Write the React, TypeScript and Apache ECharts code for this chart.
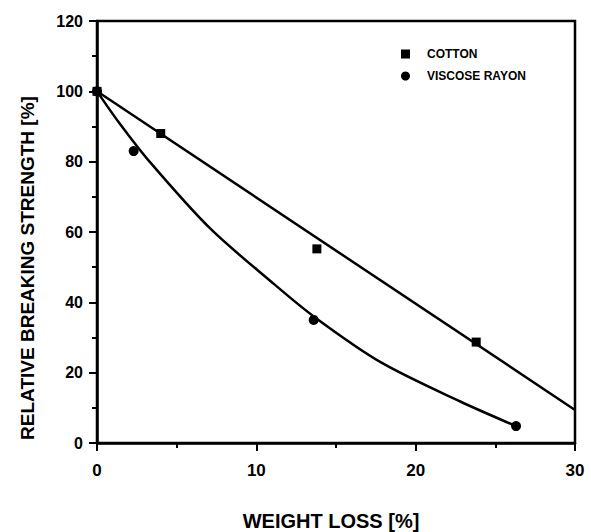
import React, { useEffect, useRef } from "react";
import * as echarts from "echarts";

const cottonPoints: [number, number][] = [
  [0, 100],
  [4, 88],
  [13.8, 55.2],
  [23.8, 28.7],
];
const cottonFitLine: [number, number][] = [
  [0, 100],
  [30, 9.4],
];
const viscosePoints: [number, number][] = [
  [0, 100],
  [2.3, 83],
  [13.6, 35],
  [26.3, 4.8],
];
const viscoseCurve: [number, number][] = [
  [0, 100],
  [1.4, 91],
  [3.3, 80],
  [7.1, 61],
  [10.9, 46],
  [13.6, 36],
  [17.8, 23],
  [22.8, 11.8],
  [26.3, 4.8],
];
const seriesNames = ["COTTON", "VISCOSE RAYON"];
const xTitle = "WEIGHT LOSS [%]";
const yTitle = "RELATIVE BREAKING STRENGTH [%]";

const FONT = "'Liberation Sans', Arial, Helvetica, sans-serif";

export default function App() {
  const ref = useRef<HTMLDivElement>(null);
  useEffect(() => {
    if (!ref.current) return;
    const chart = echarts.init(ref.current, null, { renderer: "svg" });
    chart.setOption({
      animation: false,
      backgroundColor: "#fff",
      grid: {
        left: 97,
        right: 16,
        top: 21,
        bottom: 89,
        show: true,
        borderColor: "#000",
        borderWidth: 2.5,
        backgroundColor: "transparent",
      },
      legend: {
        orient: "vertical",
        left: 396,
        top: 43,
        itemWidth: 9,
        itemHeight: 9,
        itemGap: 10,
        data: [
          { name: seriesNames[0], icon: "rect" },
          { name: seriesNames[1], icon: "circle" },
        ],
        textStyle: {
          fontFamily: FONT,
          fontWeight: "bold",
          fontSize: 12,
          color: "#000",
          padding: [0, 0, 0, 12],
        },
      },
      xAxis: {
        type: "value",
        min: 0,
        max: 30,
        interval: 10,
        splitLine: { show: false },
        axisLine: { show: true, lineStyle: { color: "#000", width: 2.5 } },
        axisTick: { show: true, inside: false, length: 8, lineStyle: { color: "#000", width: 2 } },
        minorTick: { show: true, splitNumber: 2, length: 5, lineStyle: { color: "#000", width: 2 } },
        axisLabel: {
          margin: 19,
          fontFamily: FONT,
          fontWeight: "bold",
          fontSize: 17,
          color: "#000",
        },
      },
      yAxis: {
        type: "value",
        min: 0,
        max: 120,
        interval: 20,
        splitLine: { show: false },
        axisLine: { show: true, lineStyle: { color: "#000", width: 2.5 } },
        axisTick: { show: true, inside: false, length: 8, lineStyle: { color: "#000", width: 2 } },
        minorTick: { show: true, splitNumber: 2, length: 5, lineStyle: { color: "#000", width: 2 } },
        axisLabel: {
          margin: 14,
          fontFamily: FONT,
          fontWeight: "bold",
          fontSize: 16,
          color: "#000",
        },
      },
      graphic: [
        {
          type: "text",
          x: 331,
          y: 521,
          style: {
            text: xTitle,
            fontFamily: FONT,
            fontWeight: "bold",
            fontSize: 20,
            fill: "#000",
            textAlign: "center",
            textVerticalAlign: "middle",
          },
        },
        {
          type: "text",
          x: 27,
          y: 268,
          rotation: Math.PI / 2,
          style: {
            text: yTitle,
            fontFamily: FONT,
            fontWeight: "bold",
            fontSize: 19,
            fill: "#000",
            textAlign: "center",
            textVerticalAlign: "middle",
          },
        },
      ],
      series: [
        {
          type: "line",
          data: cottonFitLine,
          showSymbol: false,
          symbol: "none",
          lineStyle: { color: "#000", width: 2.5 },
          silent: true,
        },
        {
          type: "line",
          data: viscoseCurve,
          smooth: 0.3,
          showSymbol: false,
          symbol: "none",
          lineStyle: { color: "#000", width: 2.5 },
          silent: true,
        },
        {
          name: seriesNames[0],
          type: "scatter",
          data: cottonPoints,
          symbol: "rect",
          symbolSize: 9,
          itemStyle: { color: "#000", opacity: 1 },
        },
        {
          name: seriesNames[1],
          type: "scatter",
          data: viscosePoints,
          symbol: "circle",
          symbolSize: 10,
          itemStyle: { color: "#000", opacity: 1 },
        },
      ],
    });
    return () => chart.dispose();
  }, []);
  return <div ref={ref} style={{ width: 591, height: 532, position: "absolute", left: 0, top: 0 }} />;
}
